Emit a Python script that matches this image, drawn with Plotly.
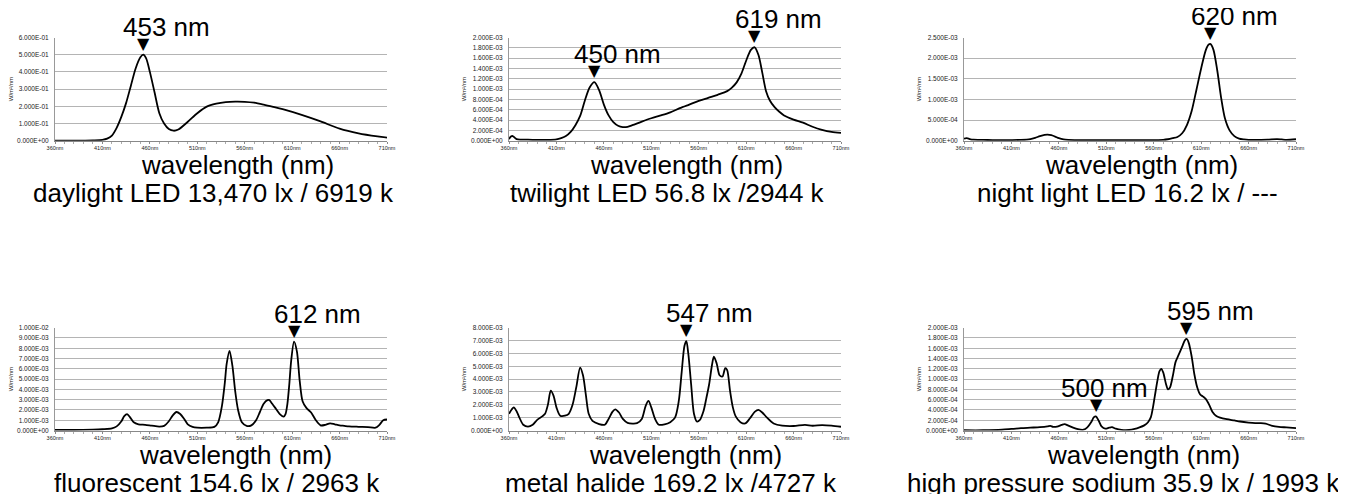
import plotly.graph_objects as go

# ---------------- data ----------------
wl_daylight = [360, 380, 400, 410, 415, 420, 425, 430, 435, 440, 445, 450, 453, 456, 460, 465, 470, 475,
               480, 485, 490, 500, 510, 520, 530, 540, 550, 560, 570, 580, 590, 600, 620, 640, 660, 680, 700, 710]
val_daylight = [0, 0, 0.002, 0.005, 0.012, 0.03, 0.075, 0.14, 0.22, 0.32, 0.42, 0.485, 0.50, 0.48, 0.40, 0.28,
                0.16, 0.10, 0.068, 0.058, 0.065, 0.11, 0.16, 0.198, 0.215, 0.224, 0.227, 0.226, 0.221, 0.21,
                0.197, 0.183, 0.15, 0.112, 0.07, 0.043, 0.025, 0.018]

wl_twilight = [360, 362, 364, 366, 368, 372, 380, 390, 400, 410, 415, 420, 425, 430, 435, 440, 445, 450, 455,
               460, 465, 470, 475, 480, 485, 490, 500, 510, 520, 530, 540, 550, 560, 570, 580, 590, 595, 600,
               605, 610, 615, 619, 623, 627, 631, 635, 640, 645, 650, 660, 670, 680, 690, 700, 710]
val_twilight_e4 = [0.3, 0.8, 0.9, 0.6, 0.3, 0.2, 0.2, 0.15, 0.15, 0.25, 0.5, 0.9, 1.7, 3.0, 4.8, 7.8, 10.3,
                   11.35, 9.8, 7.0, 4.9, 3.6, 2.9, 2.65, 2.7, 3.0, 3.7, 4.35, 4.9, 5.5, 6.3, 7.0, 7.7, 8.3, 8.9,
                   9.6, 10.3, 11.3, 13.0, 15.5, 17.6, 18.1, 16.6, 13.2, 9.6, 7.8, 6.5, 5.6, 4.9, 4.1, 3.5, 2.7,
                   2.1, 1.7, 1.5]

wl_night = [360, 363, 366, 370, 380, 390, 400, 410, 420, 430, 435, 440, 445, 448, 452, 456, 460, 465, 470,
            480, 500, 520, 540, 560, 570, 575, 580, 585, 590, 595, 600, 605, 610, 615, 618, 620, 623, 627,
            631, 635, 640, 645, 650, 655, 660, 670, 680, 690, 695, 700, 710]
val_night_e4 = [0.5, 0.6, 0.4, 0.25, 0.2, 0.15, 0.15, 0.15, 0.2, 0.4, 0.7, 1.1, 1.4, 1.45, 1.35, 1.0, 0.6,
                0.3, 0.2, 0.15, 0.12, 0.12, 0.12, 0.15, 0.2, 0.35, 0.6, 0.9, 1.8, 3.8, 7.2, 12.3, 17.5, 22.0,
                23.3, 23.4, 22.0, 17.0, 10.5, 5.5, 2.5, 1.1, 0.5, 0.3, 0.2, 0.2, 0.25, 0.4, 0.3, 0.2, 0.35]

wl_fluor = [360, 380, 400, 410, 420, 425, 430, 433, 436, 439, 443, 448, 455, 462, 470, 475, 480, 484, 488,
            492, 496, 500, 505, 510, 520, 528, 532, 536, 539, 541, 544, 547, 550, 553, 557, 562, 567, 572,
            576, 580, 584, 586, 589, 593, 597, 601, 603, 605, 607, 609, 612, 615, 618, 621, 625, 630, 635,
            640, 645, 650, 655, 660, 665, 670, 680, 690, 698, 702, 706, 710]
val_fluor_e3 = [0.05, 0.05, 0.08, 0.12, 0.2, 0.4, 0.9, 1.4, 1.6, 1.3, 0.8, 0.6, 0.55, 0.47, 0.38, 0.45, 0.9,
                1.45, 1.8, 1.6, 1.15, 0.6, 0.35, 0.27, 0.27, 0.35, 0.8, 2.4, 4.6, 6.5, 7.75, 6.3, 3.8, 2.0,
                0.8, 0.45, 0.5, 1.0, 1.8, 2.6, 2.95, 2.95, 2.6, 2.1, 1.6, 1.35, 1.6, 2.6, 4.5, 6.8, 8.65, 7.7,
                4.8, 2.85, 2.2, 1.75, 1.0, 0.5, 0.55, 0.7, 0.6, 0.5, 0.45, 0.4, 0.36, 0.33, 0.27, 0.55, 1.0,
                1.07]

wl_halide = [360, 363, 365, 368, 371, 375, 380, 385, 390, 395, 398, 401, 404, 407, 410, 414, 419, 423, 427,
             431, 435, 438, 441, 444, 448, 455, 461, 465, 469, 472, 476, 480, 485, 495, 500, 504, 507, 510,
             514, 518, 524, 530, 535, 539, 542, 545, 547, 549, 552, 555, 558, 561, 565, 568, 571, 574, 576,
             579, 582, 585, 588, 590, 593, 596, 599, 604, 609, 614, 619, 623, 627, 632, 639, 648, 660, 672,
             680, 690, 700, 710]
val_halide_e3 = [1.3, 1.65, 1.8, 1.5, 1.0, 0.45, 0.3, 0.45, 0.85, 1.1, 1.3, 2.0, 3.1, 2.7, 1.8, 1.15, 1.15,
                 1.3, 2.0, 3.4, 4.9, 4.3, 2.8, 1.3, 0.75, 0.5, 0.45, 0.9, 1.45, 1.65, 1.4, 0.9, 0.6, 0.57,
                 0.9, 1.9, 2.3, 1.8, 0.9, 0.45, 0.48, 0.65, 1.0, 2.3, 4.5, 6.6, 6.95, 6.0, 3.6, 1.3, 0.7, 0.8,
                 1.5, 2.5, 3.6, 5.1, 5.75, 5.2, 4.3, 4.2, 4.85, 4.7, 3.1, 1.8, 1.1, 0.65, 0.55, 0.95, 1.45,
                 1.6, 1.4, 1.0, 0.55, 0.38, 0.35, 0.44, 0.37, 0.42, 0.38, 0.29]

wl_sodium = [360, 380, 400, 410, 420, 430, 440, 448, 451, 454, 458, 463, 466, 470, 475, 480, 486, 490, 494,
             497, 499, 502, 505, 509, 513, 516, 520, 526, 534, 540, 545, 550, 554, 557, 559, 561, 564, 566,
             568, 570, 573, 575, 577, 580, 583, 586, 590, 593, 595, 597, 600, 603, 606, 609, 612, 615, 619,
             622, 626, 630, 637, 645, 651, 660, 667, 673, 678, 685, 692, 700, 710]
val_sodium_e4 = [0.05, 0.05, 0.15, 0.3, 0.45, 0.55, 0.65, 0.8, 0.9, 0.7, 0.75, 1.1, 1.25, 0.95, 0.55, 0.25,
                 0.15, 0.6, 1.6, 2.6, 2.75, 1.9, 0.8, 0.35, 0.55, 0.65, 0.35, 0.12, 0.1, 0.3, 0.6, 1.0, 1.6,
                 2.6, 4.3, 6.5, 9.8, 11.5, 12.0, 11.3, 9.0, 8.0, 8.3, 10.5, 13.3, 14.6, 16.3, 17.6, 17.8,
                 17.0, 14.4, 10.8, 8.3, 7.0, 6.6, 6.1, 4.8, 3.6, 2.8, 2.5, 2.2, 1.95, 1.75, 1.55, 1.45, 1.45,
                 1.35, 0.9, 0.7, 0.6, 0.47]

titles = ["daylight LED 13,470 lx / 6919 k", "twilight LED 56.8 lx /2944 k", "night light LED 16.2 lx / ---",
          "fluorescent 154.6 lx / 2963 k", "metal halide 169.2 lx /4727 k", "high pressure sodium 35.9 lx / 1993 k"]
y_max = [0.6, 2e-3, 2.5e-3, 1e-2, 8e-3, 2e-3]
y_step = [0.1, 2e-4, 5e-4, 1e-3, 1e-3, 2e-4]
peak_wl = [[453], [450, 619], [620], [612], [547], [500, 595]]
peak_val = [[0.50], [1.135e-3, 1.81e-3], [2.34e-3], [8.65e-3], [6.95e-3], [2.75e-4, 1.78e-3]]
x_ticks = [360, 410, 460, 510, 560, 610, 660, 710]

series_x = [wl_daylight, wl_twilight, wl_night, wl_fluor, wl_halide, wl_sodium]
series_y = [val_daylight,
            [v * 1e-4 for v in val_twilight_e4],
            [v * 1e-4 for v in val_night_e4],
            [v * 1e-3 for v in val_fluor_e3],
            [v * 1e-3 for v in val_halide_e3],
            [v * 1e-4 for v in val_sodium_e4]]

# ---------------- layout geometry (page pixels) ----------------
OFF = 8                      # default page margin around the figure
W, H = 1336, 486             # figure size (fits the 1346x495 window with the page margin)
col_px = [(55, 387), (509, 841), (964, 1296)]
row_px = [(37.5, 140.7), (327.7, 430.5)]
xlabel_cx = [237.5, 686.5, 1141, 235, 685, 1143.5]
title_cx = [213, 667, 1127, 217, 671, 1123]
label_dx = [[-22], [-22, -22], [-22], [-22], [-22], [-38, -22]]   # horizontal offset of peak labels


def px_x(p):
    return (p - OFF) / W


def px_y(p):
    return 1 - (p - OFF) / H


FONT = "Liberation Sans, Arial, sans-serif"
fig = go.Figure()
annotations = []

for i in range(6):
    r, c = divmod(i, 3)
    ax = "" if i == 0 else str(i + 1)
    x0, x1 = col_px[c]
    t0, t1 = row_px[r]
    fig.add_trace(go.Scatter(
        x=series_x[i], y=series_y[i], mode="lines",
        line=dict(color="black", width=1.8, shape="spline", smoothing=0.8),
        xaxis="x" + ax, yaxis="y" + ax, showlegend=False, hoverinfo="x+y"))

    n = int(round(y_max[i] / y_step[i]))
    yt = [k * y_step[i] for k in range(n + 1)]
    fig.layout["xaxis" + ax] = dict(
        domain=[px_x(x0), px_x(x1)], range=[360, 710], anchor="y" + ax,
        tickvals=x_ticks, ticktext=[f"{t}nm" for t in x_ticks],
        tickfont=dict(size=5.5, family="Liberation Sans Narrow, Liberation Sans, sans-serif", color="#222"),
        ticks="outside", ticklen=2, tickcolor="#888", showgrid=False, zeroline=False,
        showline=True, linecolor="#888", linewidth=1,
        minor=dict(dtick=10, ticks="outside", ticklen=2, tickcolor="#aaa"),
        fixedrange=True)
    fig.layout["yaxis" + ax] = dict(
        domain=[px_y(t1), px_y(t0)], range=[0, y_max[i]], anchor="x" + ax,
        tickvals=yt, ticktext=[f"{v:.3E}" for v in yt],
        tickfont=dict(size=6.5, family=FONT, color="#222"),
        ticks="", showgrid=True, gridcolor="#b4b4b4", gridwidth=1, zeroline=False,
        showline=True, linecolor="#999", linewidth=1, ticklabelstandoff=4,
        title=dict(text="W/m²/nm", font=dict(size=6, family=FONT, color="#222"), standoff=3),
        fixedrange=True)

    # axis title and caption
    annotations.append(dict(xref="paper", yref="paper", x=px_x(xlabel_cx[i]), y=px_y(t1 + 24.5),
                            text="wavelength (nm)", showarrow=False, xanchor="center", yanchor="middle",
                            font=dict(size=26, family=FONT, color="black")))
    annotations.append(dict(xref="paper", yref="paper", x=px_x(title_cx[i]), y=px_y(t1 + 52),
                            text=titles[i], showarrow=False, xanchor="center", yanchor="middle",
                            font=dict(size=26, family=FONT, color="black")))
    # peak markers
    for pw, pv, dx in zip(peak_wl[i], peak_val[i], label_dx[i]):
        annotations.append(dict(xref="x" + ax, yref="y" + ax, x=pw, y=pv, text="▼", showarrow=False,
                                xanchor="center", yanchor="bottom", yshift=0,
                                font=dict(size=16, family="DejaVu Sans", color="black")))
        annotations.append(dict(xref="x" + ax, yref="y" + ax, x=pw, y=pv, text=f"{pw} nm", showarrow=False,
                                xanchor="left", yanchor="bottom", yshift=11, xshift=dx,
                                font=dict(size=26, family=FONT, color="black")))

fig.update_layout(
    width=W, height=H, margin=dict(l=0, r=0, t=0, b=0),
    paper_bgcolor="white", plot_bgcolor="white", template="none",
    annotations=annotations, showlegend=False)

fig.write_html("out.html")
